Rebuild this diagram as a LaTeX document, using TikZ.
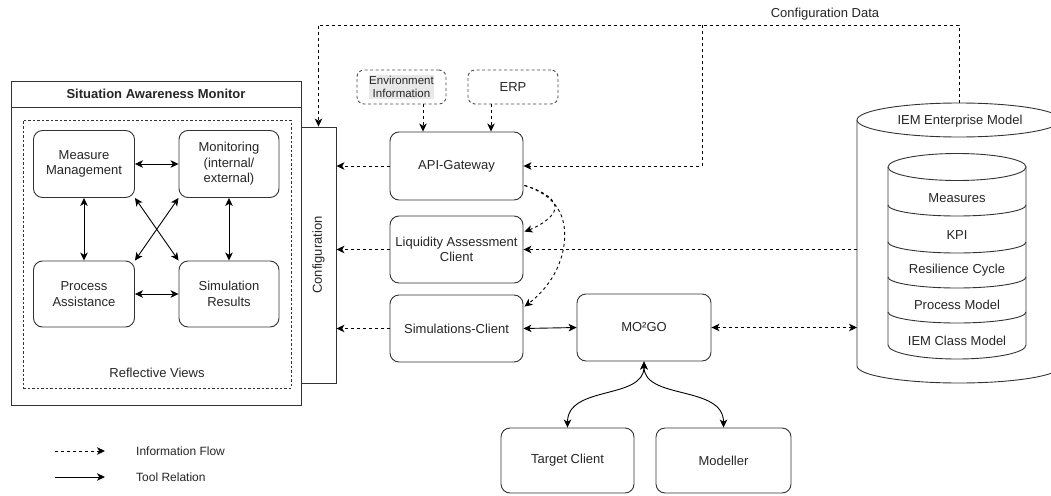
\documentclass[tikz,border=0pt]{standalone}
\usepackage{fontspec}
\setmainfont{Liberation Sans}
\usetikzlibrary{arrows.meta,calc}
\begin{document}
\begin{tikzpicture}[x=1pt,y=1pt,
  >={Stealth[length=8pt,width=7.5pt,inset=2.2pt]},
  txt/.style={text=black!85, font=\fontsize{13}{15.5}\selectfont, align=center},
  box/.style={txt, draw=black!80, line width=0.9pt, rounded corners=9pt, fill=white, inner sep=1pt},
  dbox/.style={draw=black!70, line width=0.9pt, rounded corners=7pt, dash pattern=on 3pt off 2.5pt},
  flow/.style={->, line width=0.9pt, dash pattern=on 3pt off 3pt},
  tool/.style={->, line width=0.9pt},
  plainline/.style={draw=black!80, line width=0.9pt},
  small/.style={text=black!85, font=\fontsize{12}{14}\selectfont}
]
\useasboundingbox (0,0) rectangle (1051,-495);
\fill[white] (0,0) rectangle (1051,-495);

% ---------- Situation Awareness Monitor ----------
\node[plainline, draw, minimum width=290, minimum height=324, inner sep=0] (sam) at (156,-243) {};
\draw[plainline] (sam.west |- 0,-107) -- (sam.east |- 0,-107);
\node[txt, font=\fontsize{13}{15.5}\selectfont\bfseries] (samtitle) at (156,-94) {Situation Awareness Monitor};
\node[draw=black!80, line width=0.8pt, dash pattern=on 2.5pt off 2pt, minimum width=268, minimum height=268, inner sep=0] (refl) at (157,-254) {};
\node[txt] (refltxt) at (157,-373) {Reflective Views};

\node[box, minimum width=101, minimum height=67] (mm)  at (84,-164)  {Measure\\Management};
\node[box, minimum width=100, minimum height=67] (mon) at (229,-164) {Monitoring\\(internal/\\external)};
\node[box, minimum width=101, minimum height=66] (pa)  at (84,-294)  {Process\\Assistance};
\node[box, minimum width=100, minimum height=66] (sr)  at (229,-294) {Simulation\\Results};

\draw[tool,<->] (mm.east) -- (mon.west);
\draw[tool,<->] (pa.east) -- (sr.west);
\draw[tool,<->] (mm.south) -- (pa.north);
\draw[tool,<->] (mon.south) -- (sr.north);
\draw[tool,<->] (mm.south east) -- (sr.north west);
\draw[tool,<->] (mon.south west) -- (pa.north east);

% ---------- Configuration ----------
\node[plainline, draw, fill=white, minimum width=35, minimum height=256, inner sep=0] (config) at (318.5,-255) {};
\node[txt, rotate=90] (configtxt) at (config) {Configuration};

% ---------- Sources ----------
\node[dbox, minimum width=89, minimum height=34] (env) at (401.5,-87) {};
\node[fill=black!9, inner sep=0.6pt, text=black!85, font=\fontsize{11.5}{13.5}\selectfont, align=center] (envtxt) at (401.5,-87) {Environment\\Information};
\node[dbox, txt, minimum width=90, minimum height=34] (erp) at (513,-87) {ERP};

% ---------- Clients ----------
\node[box, minimum width=133, minimum height=68] (api) at (456.5,-166) {API-Gateway};
\node[box, minimum width=133, minimum height=67] (liq) at (456.5,-249.5) {Liquidity Assessment\\Client};
\node[box, minimum width=133, minimum height=67] (sim) at (456.5,-328.5) {Simulations-Client};
\node[box, minimum width=134, minimum height=67] (mogo) at (644,-327.5) {MO²GO};
\node[box, minimum width=133, minimum height=65] (tc) at (567.5,-460.5) {Target Client};
\node[box, minimum width=135, minimum height=65] (mod) at (723.5,-460.5) {Modeller};

% ---------- IEM Enterprise Model cylinder ----------
\draw[plainline, fill=white] (857,-120) -- (857,-366) arc[start angle=180, end angle=360, x radius=102, y radius=17] -- (1061,-120);
\draw[plainline, fill=white] (959,-120) ellipse [x radius=102, y radius=17];
\node[txt] (iemtxt) at (960,-121) {IEM Enterprise Model};

\draw[plainline, fill=white] (888,-167) -- (888,-345) arc[start angle=180, end angle=360, x radius=69, y radius=14] -- (1026,-167);
\draw[plainline, fill=white] (957,-167) ellipse [x radius=69, y radius=13.5];
\foreach \yy in {205,242,277,312}{
  \draw[plainline] (888,-\yy) arc[start angle=180, end angle=360, x radius=69, y radius=11];
}
\node[txt] (measures) at (957,-198) {Measures};
\node[txt] (kpi) at (957,-235) {KPI};
\node[txt] (rescyc) at (957,-270) {Resilience Cycle};
\node[txt] (procm) at (957,-305) {Process Model};
\node[txt] (iemcm) at (957,-341) {IEM Class Model};

\coordinate (cyltop) at (959,-103);
\coordinate (cylL1) at (857,-249.5);
\coordinate (cylL2) at (857,-327.5);
\coordinate (junc) at (702,-25);
\coordinate (cfgcorner) at (959,-25);

% ---------- Connectors ----------
\draw[flow] (env.south -| 423,0) -- (api.north -| 423,0);
\draw[flow] (erp.south -| 491,0) -- (api.north -| 491,0);

\draw[flow] (api.west) -- (config.east |- api.west);
\draw[flow] (liq.west) -- (config.east |- liq.west);
\draw[flow] (sim.west) -- (config.east |- sim.west);

\draw[flow] (cyltop) -- (cfgcorner) -- (config.north |- cfgcorner) -- (config.north);
\draw[flow] (junc) |- (api.east);
\node[txt] (cfgdata) at (825,-14) {Configuration Data};

\draw[flow] (cylL1) -- (liq.east);
\draw[flow,<->] (mogo.east) -- (cylL2);
\draw[tool,<->] (sim.east) -- (mogo.west);

\draw[flow] ($(api.south east)+(1,15)$) .. controls (540,-190) and (553,-197) .. (555,-206) .. controls (557,-215) and (540,-226) .. ($(liq.north east)+(1,-16)$);
\draw[flow] ($(api.south east)+(1,15)$) .. controls (555,-195) and (568,-215) .. (564,-245) .. controls (560,-275) and (540,-295) .. ($(sim.north east)+(1,-12)$);

\draw[tool,<->] (mogo.south) .. controls (644,-400) and (567.5,-385) .. (tc.north);
\draw[tool,<->] (mogo.south) .. controls (644,-400) and (723.5,-385) .. (mod.north);

% ---------- Legend ----------
\coordinate (l1a) at (55,-451);
\coordinate (l1b) at (105,-451);
\coordinate (l2a) at (55,-477);
\coordinate (l2b) at (105,-477);
\draw[flow] (l1a) -- (l1b);
\draw[tool] (l2a) -- (l2b);
\node[small, anchor=west, inner sep=0] (lg1) at (136,-451) {Information Flow};
\node[small, anchor=west, inner sep=0] (lg2) at (136,-477) {Tool Relation};
\end{tikzpicture}
\end{document}
